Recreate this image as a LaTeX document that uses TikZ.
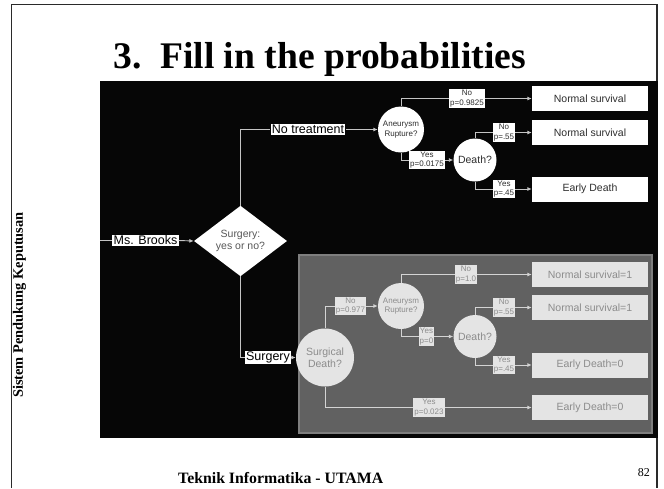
\documentclass[tikz,border=0pt]{standalone}
\usepackage{fontspec}
\setmainfont{Liberation Serif}
\setsansfont{Liberation Sans}
\usetikzlibrary{shapes.geometric,arrows.meta}
\definecolor{panelblack}{HTML}{060606}
\definecolor{panelgray}{HTML}{616161}
\definecolor{panelrim}{HTML}{7E7E7E}
\definecolor{wire}{HTML}{C4C4C4}
\definecolor{wiregray}{HTML}{D4D4D4}
\definecolor{ink}{HTML}{2E2E2E}
\definecolor{pale}{HTML}{E4E4E4}
\definecolor{paleink}{HTML}{8C8C8C}
\definecolor{frame}{HTML}{2A2A2A}
\begin{document}
\begin{tikzpicture}[x=1pt,y=-1pt,
  tbox/.style={rectangle,fill=white,text=black,inner sep=1.2pt,
    font=\sffamily\fontsize{12.5}{14}\selectfont},
  decide/.style={diamond,fill=white,text=ink!80,minimum width=93pt,
    minimum height=68pt,inner sep=0pt,align=center,
    font=\sffamily\fontsize{10.5}{12}\selectfont},
  chance/.style={circle,fill=white,text=ink,inner sep=0pt,align=center},
  small/.style={font=\sffamily\fontsize{8}{9.3}\selectfont},
  mid/.style={font=\sffamily\fontsize{10.5}{12}\selectfont},
  outbox/.style={rectangle,fill=white,text=ink,minimum width=116pt,
    minimum height=25pt,inner sep=0pt,font=\sffamily\fontsize{10.5}{12}\selectfont},
  prob/.style={rectangle,fill=white,text=ink,inner sep=1.2pt,align=center,
    font=\sffamily\fontsize{8}{9.3}\selectfont},
  greyed/.style={fill=pale,text=paleink},
  link/.style={draw=wire,line width=0.9pt},
  linkg/.style={draw=wiregray,line width=0.9pt},
  tip/.style={-{Latex[length=4.5pt,width=4pt]}}
]
\useasboundingbox (0,0) rectangle (664,488);
\fill[white] (0,0) rectangle (664,488);

% slide frame, title, side and footer texts
\draw[frame,line width=1.4pt] (11.5,488) -- (11.5,4.5) -- (657,4.5) -- (657,488);
\node[anchor=base west,inner sep=0pt,font=\fontsize{37.6}{40}\bfseries\selectfont]
  (title) at (113,68) {3.\ \ Fill in the probabilities};
\node[anchor=base,rotate=90,inner sep=0pt,font=\fontsize{14.4}{16}\bfseries\selectfont]
  (side) at (23,305) {Sistem Pendukung Keputusan};
\node[anchor=base west,inner sep=0pt,font=\fontsize{15.8}{18}\bfseries\selectfont]
  (foot) at (178,483) {Teknik Informatika - UTAMA};
\node[anchor=base east,inner sep=0pt,font=\fontsize{12}{14}\selectfont]
  (page) at (650,476) {82};

% panels
\fill[panelblack] (100,81) rectangle (658,438);
\draw[panelrim,line width=1.5pt,fill=panelgray] (299,255) rectangle (652,433);

% decision and treatment nodes
\coordinate (entry) at (100,240.5);
\node[tbox] (msb) at (145.5,240.5) {Ms. Brooks};
\node[decide] (dia) at (240.5,241) {Surgery:\\yes or no?};
\node[tbox] (nt) at (308,129.5) {No treatment};
\node[tbox] (sg) at (268,357.5) {Surgery};

% no-treatment branch
\node[chance,small,minimum size=46pt] (ar1) at (401,129.5) {Aneurysm\\Rupture?};
\node[chance,mid,minimum size=43pt] (d1) at (475,160) {Death?};
\node[outbox] (ns1) at (590,98.5) {Normal survival};
\node[outbox] (ns2) at (590,132.5) {Normal survival};
\node[outbox] (ed1) at (590,189) {Early Death};

% surgery branch
\node[chance,mid,greyed,minimum size=58pt] (sd) at (325,357.5) {Surgical\\Death?};
\node[chance,small,greyed,minimum size=46pt] (ar2) at (401,306) {Aneurysm\\Rupture?};
\node[chance,mid,greyed,minimum size=43pt] (d2) at (475,336.5) {Death?};
\node[outbox,greyed] (ns3) at (590,274.5) {Normal survival=1};
\node[outbox,greyed] (ns4) at (590,307.5) {Normal survival=1};
\node[outbox,greyed] (ed2) at (590,365) {Early Death=0};
\node[outbox,greyed] (ed3) at (590,407.5) {Early Death=0};

% connectors on the black panel
\draw[link] (entry) -- (msb.west);
\draw[link,tip] (msb.east) -- (dia.west);
\draw[link] (dia.north) |- (nt.west);
\draw[link] (dia.south) |- (sg.west);
\draw[link,tip] (nt.east) -- (ar1.west);
\draw[link,tip] (ar1.north) |- (ns1.west);
\draw[link,tip] (ar1.south) |- (d1.west);
\draw[link,tip] (d1.north) |- (ns2.west);
\draw[link,tip] (d1.south) |- (ed1.west);
\draw[link,tip] (sg.east) -- (sd.west);

% connectors on the grey panel
\draw[linkg,tip] (sd.north) |- (ar2.west);
\draw[linkg,tip] (sd.south) |- (ed3.west);
\draw[linkg,tip] (ar2.north) |- (ns3.west);
\draw[linkg,tip] (ar2.south) |- (d2.west);
\draw[linkg,tip] (d2.north) |- (ns4.west);
\draw[linkg,tip] (d2.south) |- (ed2.west);

% probability labels
\node[prob] (p1) at (467,98.5) {No\\p=0.9825};
\node[prob] (p2) at (427,160) {Yes\\p=0.0175};
\node[prob] (p3) at (504,132.5) {No\\p=.55};
\node[prob] (p4) at (504,189) {Yes\\p=.45};
\node[prob,greyed] (p5) at (350.5,306) {No\\p=0.977};
\node[prob,greyed] (p6) at (429,407.5) {Yes\\p=0.023};
\node[prob,greyed] (p7) at (466,274.5) {No\\p=1.0};
\node[prob,greyed] (p8) at (426.5,336.5) {Yes\\p=0};
\node[prob,greyed] (p9) at (504,307.5) {No\\p=.55};
\node[prob,greyed] (p10) at (504,365) {Yes\\p=.45};
\end{tikzpicture}
\end{document}
